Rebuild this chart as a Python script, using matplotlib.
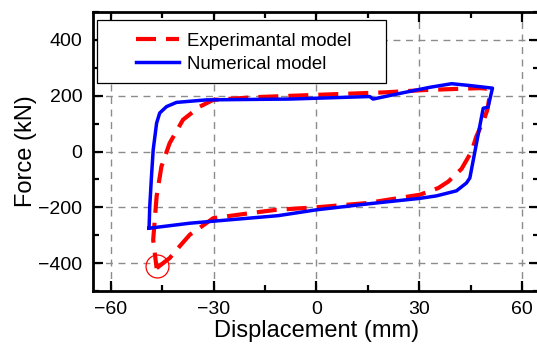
import matplotlib
matplotlib.use("Agg")
import matplotlib.pyplot as plt
from matplotlib.patches import Rectangle
from matplotlib.ticker import MultipleLocator

plt.rcParams['font.family'] = ['Liberation Sans', 'DejaVu Sans']

# Experimental model (red dashed)
exp_x = [-46.6, -42.8, -39.9, -36.9, -33.5, -30.1, -20.0, -11.7, 0.0, 14.6, 30.1, 35.5,
         38.4, 42.3, 45.2, 46.6, 48.8, 49.8, 50.5, 50.0, 47.6, 40.0, 31.1, 20.0, 0.0,
         -17.5, -30.1, -34.0, -38.9, -42.8, -45.2, -46.6, -47.6, -46.6]
exp_y = [-418, -382, -340, -298, -269, -239, -222, -209, -200, -185, -155, -131,
         -108, -62, 0, 54, 114, 149, 200, 225, 227, 224, 220, 212, 203,
         195, 185, 161, 114, 30, -54, -161, -317, -418]

# Numerical model (blue solid)
num_x = [-48.8, -48.6, -48.1, -47.6, -46.6, -45.7, -43.7, -40.8, -32.1, -7.8, 0.0, 15.5,
         16.5, 25.0, 33.0, 39.4, 45.0, 51.3, 50.0, 48.6, 44.7, 43.7, 40.8, 35.0, 30.1,
         15.5, 0.0, -11.2, -36.9, -48.8]
num_y = [-275, -197, -90, 6, 102, 138, 161, 176, 185, 188, 191, 197,
         188, 210, 230, 243, 236, 227, 159, 155, -95, -113, -141, -159, -168,
         -187, -209, -230, -257, -275]

# Highlighted peak point (red circle)
peak_x = [-46.4]
peak_y = [-412]

x_ticks = [-60, -30, 0, 30, 60]
y_ticks = [-400, -200, 0, 200, 400]

fig = plt.figure(figsize=(5.37, 3.52), dpi=100)
ax = fig.add_axes([0.1741, 0.1733, 0.8305, 0.7926])

ax.plot(exp_x, exp_y, color='#ff0000', lw=3.0, linestyle=(0, (4.8, 2.4)),
        label='Experimantal model', zorder=3)
ax.plot(num_x, num_y, color='#0000ff', lw=2.5, solid_joinstyle='round',
        label='Numerical model', zorder=4)
ax.plot(peak_x, peak_y, marker='o', ms=16.5, mfc='none', mec='#ff0000', mew=0.9,
        linestyle='none', zorder=5)

ax.set_xlim(-65, 65)
ax.set_ylim(-500, 500)
ax.set_xticks(x_ticks)
ax.set_yticks(y_ticks)
ax.xaxis.set_minor_locator(MultipleLocator(15))
ax.yaxis.set_minor_locator(MultipleLocator(100))

ax.grid(True, which='major', color='#8c8c8c', linestyle=(0, (5, 4)), lw=1.0)
ax.set_axisbelow(True)

for s in ax.spines.values():
    s.set_linewidth(2.0)

ax.tick_params(which='both', direction='in', top=True, right=True, width=1.6)
ax.tick_params(which='major', length=7, labelsize=14, pad=7)
ax.tick_params(which='minor', length=4)
ax.tick_params(axis='y', pad=8)

ax.set_xlabel('Displacement (mm)', fontsize=17, labelpad=2)
ax.set_ylabel('Force (kN)', fontsize=17, labelpad=1)

leg = ax.legend(loc='upper left', bbox_to_anchor=(0.096, 0.925), frameon=False,
                borderaxespad=0, borderpad=0, handlelength=2.3, handletextpad=0.4,
                labelspacing=0.3, fontsize=13.4)
ax.add_patch(Rectangle((0.007, 0.747), 0.648, 0.224, transform=ax.transAxes,
                       fill=True, facecolor='white', edgecolor='black', lw=0.9, zorder=6))
leg.set_zorder(7)

fig.savefig('out.png', dpi=100)
